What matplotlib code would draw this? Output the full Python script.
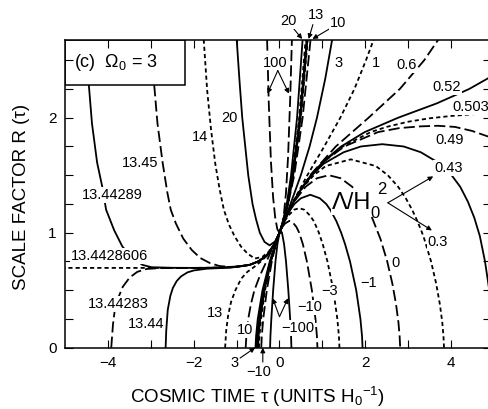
import matplotlib
matplotlib.use('Agg')
import matplotlib.pyplot as plt
from matplotlib.patches import Rectangle

plt.rcParams['font.family'] = ['Liberation Sans', 'DejaVu Sans']
plt.rcParams['mathtext.fontset'] = 'custom'
plt.rcParams['mathtext.rm'] = 'Liberation Sans'
plt.rcParams['mathtext.it'] = 'Liberation Sans:italic'
plt.rcParams['mathtext.bf'] = 'Liberation Sans:bold'
plt.rcParams['lines.scale_dashes'] = False

# scale factor curves R(tau) for Omega_0 = 3, one list of (tau, R) per Lambda/H0^2
L_100 = [(-0.29, 2.68), (-0.25, 2.12), (-0.2, 1.62), (-0.15, 1.31), (-0.1, 1.13), (-0.05, 1.03),
         (0.0, 1.0), (0.05, 1.04), (0.1, 1.15), (0.15, 1.34), (0.2, 1.66), (0.25, 2.17), (0.29, 2.68)]
L_20 = [(-1.0, 2.68), (-0.93, 2.3), (-0.87, 2.0), (-0.8, 1.75), (-0.73, 1.5), (-0.63, 1.25), (-0.55, 1.12),
        (-0.46, 1.0), (-0.35, 0.92), (-0.23, 0.89), (-0.1, 0.925), (0.0, 1.0), (0.08, 1.1), (0.17, 1.25),
        (0.27, 1.5), (0.41, 2.0), (0.54, 2.68)]
L_14 = [(-1.77, 2.68), (-1.69, 2.24), (-1.6, 1.9), (-1.5, 1.6), (-1.4, 1.38), (-1.3, 1.2), (-1.18, 1.07),
        (-1.05, 0.97), (-0.9, 0.88), (-0.75, 0.82), (-0.58, 0.775), (-0.4, 0.79), (-0.25, 0.835),
        (-0.12, 0.9), (0.0, 1.0), (0.09, 1.1), (0.18, 1.25), (0.3, 1.5), (0.46, 2.0), (0.61, 2.68)]
L_13_45 = [(-3.0, 2.68), (-2.93, 2.3), (-2.85, 1.95), (-2.73, 1.61), (-2.62, 1.35), (-2.54, 1.2),
           (-2.42, 1.08), (-2.25, 0.95), (-2.05, 0.85), (-1.85, 0.78), (-1.62, 0.735), (-1.4, 0.71),
           (-1.15, 0.703), (-0.9, 0.708), (-0.7, 0.72), (-0.5, 0.748), (-0.3, 0.8), (-0.12, 0.9),
           (0.0, 1.0), (0.09, 1.1), (0.19, 1.25), (0.31, 1.5), (0.48, 2.0), (0.64, 2.68)]
L_13_44289 = [(-4.55, 2.68), (-4.45, 2.27), (-4.38, 1.95), (-4.26, 1.61), (-4.14, 1.4), (-4.05, 1.2),
              (-3.86, 1.02), (-3.67, 0.88), (-3.46, 0.79), (-3.2, 0.72), (-2.99, 0.70), (-2.5, 0.695),
              (-2.0, 0.694), (-1.6, 0.695), (-1.1, 0.70), (-0.7, 0.72), (-0.5, 0.75), (-0.3, 0.8),
              (-0.12, 0.9), (0.0, 1.0), (0.09, 1.1), (0.19, 1.25), (0.31, 1.5), (0.48, 2.0), (0.64, 2.68)]
L_13_4428606 = [(-5.1, 0.694), (-4.0, 0.694), (-3.0, 0.694), (-2.0, 0.694), (-1.6, 0.695), (-1.1, 0.70),
                (-0.7, 0.72), (-0.5, 0.75), (-0.3, 0.8), (-0.12, 0.9), (0.0, 1.0), (0.09, 1.1),
                (0.19, 1.25), (0.31, 1.5), (0.48, 2.0), (0.64, 2.68)]
L_13_44283 = [(-3.93, 0.0), (-3.91, 0.1), (-3.89, 0.2), (-3.85, 0.32), (-3.76, 0.44), (-3.66, 0.53),
              (-3.5, 0.61), (-3.32, 0.66), (-3.1, 0.685), (-2.8, 0.692), (-2.0, 0.694), (-1.6, 0.695),
              (-1.1, 0.70), (-0.7, 0.72), (-0.5, 0.75), (-0.3, 0.8), (-0.12, 0.9), (0.0, 1.0),
              (0.09, 1.1), (0.19, 1.25), (0.31, 1.5), (0.48, 2.0), (0.64, 2.68)]
L_13_44 = [(-2.66, 0.0), (-2.645, 0.15), (-2.61, 0.33), (-2.55, 0.45), (-2.49, 0.52), (-2.4, 0.58),
           (-2.3, 0.62), (-2.15, 0.655), (-2.0, 0.672), (-1.7, 0.687), (-1.3, 0.694), (-1.0, 0.702),
           (-0.7, 0.72), (-0.5, 0.75), (-0.3, 0.8), (-0.12, 0.9), (0.0, 1.0), (0.09, 1.1),
           (0.19, 1.25), (0.32, 1.5), (0.49, 2.0), (0.65, 2.68)]
L_13 = [(-1.27, 0.0), (-1.245, 0.15), (-1.2, 0.28), (-1.13, 0.4), (-1.03, 0.5), (-0.895, 0.6),
        (-0.75, 0.66), (-0.6, 0.7), (-0.45, 0.745), (-0.296, 0.8), (-0.118, 0.9), (0.0, 1.0),
        (0.09, 1.1), (0.2, 1.25), (0.32, 1.5), (0.5, 2.0), (0.66, 2.68)]
L_10 = [(-0.79, 0.0), (-0.774, 0.1), (-0.73, 0.25), (-0.67, 0.375), (-0.586, 0.5), (-0.46, 0.625),
        (-0.305, 0.75), (-0.15, 0.875), (0.0, 1.0), (0.09, 1.1), (0.2, 1.25), (0.345, 1.5),
        (0.54, 2.0), (0.725, 2.68)]
L_3 = [(-0.56, 0.0), (-0.547, 0.1), (-0.508, 0.25), (-0.397, 0.5), (-0.228, 0.75), (-0.097, 0.9),
       (0.0, 1.0), (0.128, 1.125), (0.257, 1.25), (0.498, 1.5), (0.703, 1.75), (0.875, 2.0),
       (1.069, 2.34), (1.23, 2.68)]
L_1 = [(-0.535, 0.0), (-0.522, 0.1), (-0.49, 0.24), (-0.43, 0.375), (-0.34, 0.55), (-0.215, 0.75),
       (-0.09, 0.9), (0.0, 1.0), (0.13, 1.125), (0.29, 1.25), (0.65, 1.5), (1.045, 1.75),
       (1.42, 2.0), (1.75, 2.25), (2.02, 2.5), (2.2, 2.68)]
L_0_6 = [(-0.525, 0.0), (-0.512, 0.1), (-0.482, 0.22), (-0.425, 0.375), (-0.335, 0.556), (-0.213, 0.75),
         (-0.054, 0.944), (0.0, 1.0), (0.135, 1.125), (0.3, 1.25), (0.715, 1.5), (1.315, 1.75),
         (2.08, 2.0), (2.81, 2.25), (3.38, 2.5), (3.71, 2.68)]
L_0_52 = [(-0.525, 0.0), (-0.512, 0.1), (-0.482, 0.22), (-0.425, 0.375), (-0.335, 0.556), (-0.213, 0.75),
          (-0.054, 0.944), (0.0, 1.0), (0.135, 1.125), (0.298, 1.25), (0.493, 1.375), (0.734, 1.5),
          (1.038, 1.625), (1.44, 1.75), (1.99, 1.875), (2.77, 2.0), (3.675, 2.125), (4.43, 2.25),
          (5.0, 2.37)]
L_0_503 = [(-0.523, 0.0), (-0.51, 0.1), (-0.48, 0.22), (-0.423, 0.375), (-0.333, 0.556), (-0.212, 0.75),
           (-0.054, 0.944), (0.0, 1.0), (0.136, 1.125), (0.298, 1.25), (0.49, 1.375), (0.738, 1.5),
           (1.05, 1.625), (1.478, 1.75), (2.13, 1.875), (2.5, 1.92), (3.0, 1.965), (3.5, 1.995),
           (4.0, 2.015), (4.5, 2.03), (5.0, 2.04)]
L_0_49 = [(-0.523, 0.0), (-0.51, 0.1), (-0.48, 0.22), (-0.423, 0.375), (-0.333, 0.556), (-0.212, 0.75),
          (-0.054, 0.944), (0.0, 1.0), (0.136, 1.125), (0.3, 1.25), (0.49, 1.375), (0.743, 1.5),
          (1.06, 1.625), (1.513, 1.75), (2.3, 1.875), (2.8, 1.91), (3.3, 1.925), (3.7, 1.93),
          (4.1, 1.92), (4.5, 1.885), (5.0, 1.82)]
L_0_43 = [(-0.52, 0.0), (-0.507, 0.1), (-0.478, 0.22), (-0.421, 0.375), (-0.332, 0.556), (-0.211, 0.75),
          (-0.053, 0.944), (0.0, 1.0), (0.107, 1.1), (0.231, 1.2), (0.376, 1.3), (0.548, 1.4),
          (0.759, 1.5), (1.03, 1.6), (1.5, 1.7), (1.9, 1.75), (2.4, 1.77), (2.9, 1.75), (3.3, 1.7),
          (3.75, 1.6), (4.02, 1.5), (4.22, 1.4), (4.4, 1.27), (4.55, 1.13), (4.68, 0.97),
          (4.8, 0.75), (4.9, 0.5), (4.98, 0.3), (5.05, 0.0)]
L_0_3 = [(-0.52, 0.0), (-0.507, 0.1), (-0.478, 0.22), (-0.421, 0.375), (-0.332, 0.556), (-0.211, 0.75),
         (-0.053, 0.944), (0.0, 1.0), (0.108, 1.1), (0.233, 1.2), (0.38, 1.3), (0.56, 1.4), (0.8, 1.5),
         (1.08, 1.58), (1.665, 1.638), (2.25, 1.58), (2.53, 1.5), (2.77, 1.4), (2.95, 1.3),
         (3.097, 1.2), (3.222, 1.1), (3.33, 1.0), (3.383, 0.944), (3.54, 0.75), (3.66, 0.556),
         (3.747, 0.375), (3.802, 0.22), (3.83, 0.1), (3.843, 0.0)]
L_0 = [(-0.513, 0.0), (-0.5005, 0.1), (-0.472, 0.22), (-0.417, 0.375), (-0.331, 0.556), (-0.21, 0.75),
       (-0.053, 0.944), (0.138, 1.125), (0.361, 1.28), (0.61, 1.4), (0.877, 1.474), (1.153, 1.5),
       (1.429, 1.474), (1.696, 1.4), (1.944, 1.28), (2.168, 1.125), (2.36, 0.944), (2.516, 0.75),
       (2.637, 0.556), (2.723, 0.375), (2.778, 0.22), (2.806, 0.1), (2.819, 0.0)]
L_m1 = [(-0.5, 0.0), (-0.488, 0.1), (-0.45, 0.25), (-0.352, 0.5), (-0.207, 0.75), (-0.092, 0.9),
        (0.0, 1.0), (0.111, 1.1), (0.254, 1.2), (0.349, 1.25), (0.5, 1.3), (0.72, 1.33), (0.94, 1.3),
        (1.091, 1.25), (1.186, 1.2), (1.329, 1.1), (1.44, 1.0), (1.532, 0.9), (1.647, 0.75),
        (1.792, 0.5), (1.89, 0.25), (1.928, 0.1), (1.94, 0.0)]
L_m3 = [(-0.48, 0.0), (-0.468, 0.1), (-0.431, 0.25), (-0.337, 0.5), (-0.2, 0.75), (-0.09, 0.9),
        (0.0, 1.0), (0.117, 1.1), (0.21, 1.15), (0.34, 1.2), (0.46, 1.213), (0.58, 1.2), (0.71, 1.15),
        (0.803, 1.1), (0.92, 1.0), (1.01, 0.9), (1.12, 0.75), (1.257, 0.5), (1.351, 0.25),
        (1.388, 0.1), (1.40, 0.0)]
L_m10 = [(-0.426, 0.0), (-0.414, 0.1), (-0.38, 0.25), (-0.296, 0.5), (-0.18, 0.75), (-0.086, 0.9),
         (0.0, 1.0), (0.065, 1.05), (0.13, 1.08), (0.23, 1.103), (0.33, 1.08), (0.395, 1.05),
         (0.46, 1.0), (0.546, 0.9), (0.64, 0.75), (0.756, 0.5), (0.84, 0.25), (0.874, 0.1), (0.886, 0.0)]
L_m100 = [(-0.22, 0.0), (-0.212, 0.1), (-0.191, 0.25), (-0.148, 0.5), (-0.094, 0.75), (-0.049, 0.9),
          (0.0, 1.0), (0.029, 1.0145), (0.058, 1.0), (0.107, 0.9), (0.152, 0.75), (0.206, 0.5),
          (0.249, 0.25), (0.27, 0.1), (0.278, 0.0)]

# in order of decreasing Lambda/H0^2; line style cycles long dash / solid / short dash
curves = [L_100, L_20, L_14, L_13_45, L_13_44289, L_13_4428606, L_13_44283, L_13_44, L_13, L_10,
          L_3, L_1, L_0_6, L_0_52, L_0_503, L_0_49, L_0_43, L_0_3, L_0, L_m1, L_m3, L_m10, L_m100]
styles = [(0, (8, 3)), '-', (0, (3, 2.2))]

# curve labels: text, tau, R
labels = [("13.44289", -3.91, 1.33), ("13.45", -3.26, 1.61), ("14", -1.86, 1.83), ("20", -1.16, 2.0),
          ("13.44283", -3.77, 0.38), ("13.44", -3.12, 0.21), ("13", -1.51, 0.30), ("10", -0.81, 0.155),
          ("100", -0.1, 2.48), ("3", 1.37, 2.48), ("1", 2.25, 2.48), ("0.6", 2.96, 2.46),
          ("0.52", 3.91, 2.27), ("0.49", 3.98, 1.81), ("0.43", 3.95, 1.56), ("0.3", 3.7, 0.92),
          ("0", 2.72, 0.74), ("\u22121", 2.07, 0.56), ("\u22123", 1.18, 0.49), ("\u221210", 0.71, 0.35),
          ("\u2212100", 0.43, 0.17),
          ("20", 0.22, 2.84), ("13", 0.85, 2.89), ("10", 1.37, 2.82),
          ("3", -1.06, -0.13), ("\u221210", -0.48, -0.21)]

# label arrows: from (tau, R) to (tau, R)
arrows = [(0.34, 2.77, 0.53, 2.685), (0.78, 2.81, 0.68, 2.685), (1.2, 2.78, 0.77, 2.685),
          (-0.04, 2.41, -0.28, 2.21), (-0.04, 2.41, 0.22, 2.21),
          (2.53, 1.26, 3.59, 1.49), (2.53, 1.26, 3.56, 1.02),
          (0.0, 0.27, -0.16, 0.43), (0.0, 0.27, 0.2, 0.43),
          (-0.92, -0.09, -0.57, 0.0), (-0.39, -0.125, -0.39, 0.0)]

white = dict(facecolor='white', edgecolor='none', pad=0.6)

fig = plt.figure(figsize=(4.89, 4.09), dpi=100)
ax = fig.add_axes([65 / 489, 61.3 / 409, 426 / 489, 307.7 / 409])

for i, pts in enumerate(curves):
    tau = [p[0] for p in pts]
    r = [p[1] for p in pts]
    ax.plot(tau, r, color='black', lw=1.3, linestyle=styles[i % 3], zorder=2)

for txt, x, y in labels:
    ax.text(x, y, txt, fontsize=10.5, ha='center', va='center', zorder=4, clip_on=False, bbox=white)
ax.text(-4.87, 0.80, "13.4428606", fontsize=10.5, ha='left', va='center', zorder=4, bbox=white)
ax.text(4.03, 2.09, "0.503", fontsize=10.5, ha='left', va='center', zorder=4, clip_on=False, bbox=white)
ax.text(1.68, 1.26, "\u039b/H", fontsize=17, ha='center', va='center', zorder=4, bbox=white)
ax.text(2.23, 1.17, "0", fontsize=12, ha='center', va='center', zorder=4)
ax.text(2.39, 1.38, "2", fontsize=12, ha='center', va='center', zorder=4)

for x0, y0, x1, y1 in arrows:
    ax.annotate("", xy=(x1, y1), xytext=(x0, y0), annotation_clip=False,
                arrowprops=dict(arrowstyle='-|>', lw=0.8, color='black', mutation_scale=7,
                                shrinkA=0, shrinkB=0))

# label box in the upper left corner
ax.add_patch(Rectangle((0, 0.854), 0.2817, 0.146, transform=ax.transAxes, facecolor='white',
                       edgecolor='black', lw=1.1, zorder=2.2))
ax.text(0.022, 0.928, "(c)  \u03a9$_0$ = 3", transform=ax.transAxes, fontsize=13,
        ha='left', va='center', zorder=4)

ax.set_xlim(-5.01, 4.94)
ax.set_ylim(0, 2.676)
ax.set_xticks([-4, -3, -2, -1, 0, 1, 2, 3, 4])
ax.set_xticklabels(["\u22124", "", "\u22122", "", "0", "", "2", "", "4"])
ax.set_yticks([0, 0.25, 0.5, 0.75, 1, 1.25, 1.5, 1.75, 2, 2.25, 2.5])
ax.set_yticklabels(["0", "", "", "", "1", "", "", "", "2", "", ""])
ax.tick_params(direction='in', top=True, right=True, length=5.5, width=0.8, labelsize=11, pad=6)
ax.set_axisbelow(False)
for s in ax.spines.values():
    s.set_linewidth(1.1)

fig.text(22 / 489, 1 - 197 / 409, "SCALE FACTOR R (\u03c4)", rotation=90, fontsize=13.5,
         ha='center', va='center')
fig.text(257 / 489, 1 - 397 / 409, "COSMIC TIME \u03c4 (UNITS H$_0$$^{-1}$)", fontsize=13.5,
         ha='center', va='center')

fig.savefig("out.png", dpi=100, facecolor='white')
